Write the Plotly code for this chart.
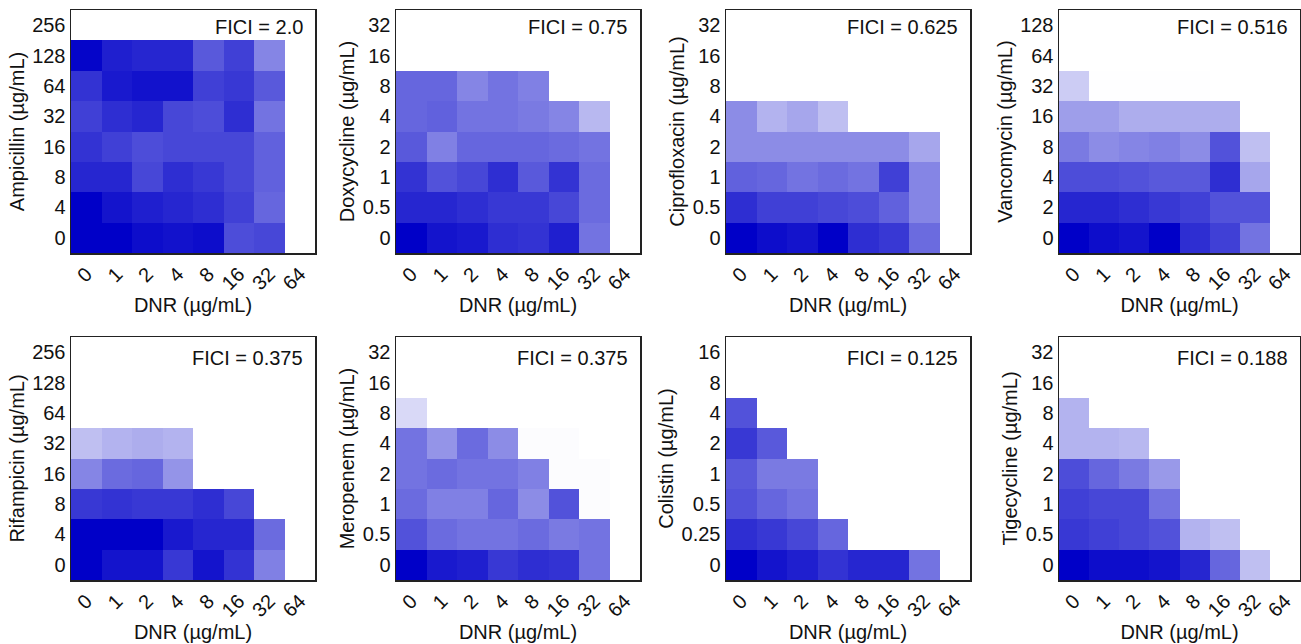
import plotly.graph_objects as go

dnr = ["0", "1", "2", "4", "8", "16", "32", "64"]

# --- panel labels ---
drugs = ["Ampicillin", "Doxycycline", "Ciprofloxacin", "Vancomycin",
         "Rifampicin", "Meropenem", "Colistin", "Tigecycline"]
fici = ["2.0", "0.75", "0.625", "0.516", "0.375", "0.375", "0.125", "0.188"]

# --- y tick labels (bottom -> top) ---
y_amp = ["0", "4", "8", "16", "32", "64", "128", "256"]
y_dox = ["0", "0.5", "1", "2", "4", "8", "16", "32"]
y_cip = ["0", "0.5", "1", "2", "4", "8", "16", "32"]
y_van = ["0", "2", "4", "8", "16", "32", "64", "128"]
y_rif = ["0", "4", "8", "16", "32", "64", "128", "256"]
y_mer = ["0", "0.5", "1", "2", "4", "8", "16", "32"]
y_col = ["0", "0.25", "0.5", "1", "2", "4", "8", "16"]
y_tig = ["0", "0.5", "1", "2", "4", "8", "16", "32"]

# --- relative growth values (rows bottom -> top, cols DNR 0..64) ---
z_amp = [
    [1.00, 1.00, 0.95, 0.93, 0.95, 0.70, 0.72, 0],
    [1.00, 0.92, 0.88, 0.85, 0.82, 0.75, 0.60, 0],
    [0.85, 0.85, 0.72, 0.82, 0.78, 0.72, 0.62, 0],
    [0.80, 0.75, 0.70, 0.72, 0.72, 0.72, 0.62, 0],
    [0.75, 0.82, 0.85, 0.72, 0.70, 0.82, 0.55, 0],
    [0.80, 0.90, 0.93, 0.93, 0.75, 0.78, 0.65, 0],
    [0.98, 0.88, 0.85, 0.85, 0.65, 0.75, 0.48, 0],
    [0, 0, 0, 0, 0, 0, 0, 0],
]
z_dox = [
    [1.00, 0.92, 0.90, 0.82, 0.80, 0.88, 0.55, 0],
    [0.85, 0.85, 0.82, 0.78, 0.78, 0.72, 0.58, 0],
    [0.80, 0.68, 0.72, 0.82, 0.65, 0.80, 0.58, 0],
    [0.65, 0.50, 0.60, 0.60, 0.60, 0.58, 0.55, 0],
    [0.60, 0.62, 0.55, 0.55, 0.52, 0.48, 0.28, 0],
    [0.60, 0.60, 0.48, 0.55, 0.50, 0, 0, 0],
    [0, 0, 0, 0, 0, 0, 0, 0],
    [0, 0, 0, 0, 0, 0, 0, 0],
]
z_cip = [
    [1.00, 0.95, 0.92, 1.00, 0.82, 0.78, 0.58, 0],
    [0.82, 0.75, 0.75, 0.72, 0.70, 0.62, 0.48, 0],
    [0.62, 0.60, 0.55, 0.58, 0.55, 0.75, 0.48, 0],
    [0.45, 0.45, 0.45, 0.45, 0.45, 0.45, 0.35, 0],
    [0.45, 0.30, 0.35, 0.25, 0, 0, 0, 0],
    [0, 0, 0, 0, 0, 0, 0, 0],
    [0, 0, 0, 0, 0, 0, 0, 0],
    [0, 0, 0, 0, 0, 0, 0, 0],
]
z_van = [
    [1.00, 0.95, 0.92, 1.00, 0.82, 0.75, 0.55, 0],
    [0.85, 0.85, 0.82, 0.78, 0.75, 0.68, 0.68, 0],
    [0.70, 0.70, 0.68, 0.65, 0.65, 0.82, 0.35, 0],
    [0.52, 0.45, 0.48, 0.50, 0.45, 0.68, 0.25, 0],
    [0.38, 0.38, 0.32, 0.32, 0.32, 0.32, 0, 0],
    [0.20, 0.005, 0.005, 0.005, 0.005, 0, 0, 0],
    [0, 0, 0, 0, 0, 0, 0, 0],
    [0, 0, 0, 0, 0, 0, 0, 0],
]
z_rif = [
    [1.00, 0.92, 0.92, 0.78, 0.92, 0.80, 0.50, 0],
    [1.00, 1.00, 1.00, 0.90, 0.85, 0.85, 0.58, 0],
    [0.78, 0.80, 0.78, 0.78, 0.82, 0.72, 0, 0],
    [0.48, 0.58, 0.60, 0.42, 0, 0, 0, 0],
    [0.25, 0.30, 0.32, 0.30, 0, 0, 0, 0],
    [0, 0, 0, 0, 0, 0, 0, 0],
    [0, 0, 0, 0, 0, 0, 0, 0],
    [0, 0, 0, 0, 0, 0, 0, 0],
]
z_mer = [
    [1.00, 0.90, 0.88, 0.78, 0.82, 0.80, 0.55, 0],
    [0.68, 0.58, 0.55, 0.55, 0.58, 0.52, 0.55, 0],
    [0.58, 0.50, 0.50, 0.60, 0.45, 0.68, 0.01, 0],
    [0.55, 0.58, 0.55, 0.55, 0.50, 0.01, 0.01, 0],
    [0.55, 0.42, 0.58, 0.45, 0.01, 0.01, 0, 0],
    [0.15, 0, 0, 0, 0, 0, 0, 0],
    [0, 0, 0, 0, 0, 0, 0, 0],
    [0, 0, 0, 0, 0, 0, 0, 0],
]
z_col = [
    [1.00, 0.92, 0.88, 0.80, 0.85, 0.85, 0.55, 0],
    [0.82, 0.78, 0.72, 0.60, 0, 0, 0, 0],
    [0.68, 0.60, 0.55, 0, 0, 0, 0, 0],
    [0.65, 0.52, 0.52, 0, 0, 0, 0, 0],
    [0.78, 0.65, 0, 0, 0, 0, 0, 0],
    [0.68, 0, 0, 0, 0, 0, 0, 0],
    [0, 0, 0, 0, 0, 0, 0, 0],
    [0, 0, 0, 0, 0, 0, 0, 0],
]
z_tig = [
    [1.00, 0.95, 0.95, 0.92, 0.85, 0.60, 0.25, 0],
    [0.78, 0.75, 0.72, 0.68, 0.30, 0.25, 0, 0],
    [0.75, 0.72, 0.72, 0.55, 0, 0, 0, 0],
    [0.70, 0.60, 0.52, 0.40, 0, 0, 0, 0],
    [0.30, 0.30, 0.28, 0, 0, 0, 0, 0],
    [0.30, 0, 0, 0, 0, 0, 0, 0],
    [0, 0, 0, 0, 0, 0, 0, 0],
    [0, 0, 0, 0, 0, 0, 0, 0],
]

ylabels = [y_amp, y_dox, y_cip, y_van, y_rif, y_mer, y_col, y_tig]
zs = [z_amp, z_dox, z_cip, z_van, z_rif, z_mer, z_col, z_tig]

W, H = 1301, 644
xpix = [(71, 315), (396, 640), (726, 970), (1059, 1300)]
ypix = [(10, 253), (337, 580)]
fici_dy = [0.93, 0.915]

FONT = "Arial, Liberation Sans, Helvetica, sans-serif"
FS = 20
fig = go.Figure()
layout = dict(width=W, height=H, margin=dict(l=0, r=0, t=0, b=0),
              paper_bgcolor="white", plot_bgcolor="white",
              font=dict(family=FONT, size=FS, color="#111"), showlegend=False)
annotations = []
for i in range(8):
    r, c = divmod(i, 4)
    n = i + 1
    xa = "x" if n == 1 else f"x{n}"
    ya = "y" if n == 1 else f"y{n}"
    fig.add_trace(go.Heatmap(
        z=zs[i], x=dnr, y=ylabels[i], xaxis=xa, yaxis=ya,
        colorscale=[[0, "rgb(255,255,255)"], [1, "rgb(0,0,200)"]],
        zmin=0, zmax=1, showscale=False, hoverinfo="skip"))
    x0, x1 = xpix[c]
    y0, y1 = ypix[r]
    axkey = "xaxis" if n == 1 else f"xaxis{n}"
    aykey = "yaxis" if n == 1 else f"yaxis{n}"
    layout[axkey] = dict(
        domain=[x0 / W, x1 / W], anchor=ya, type="category",
        tickangle=-45, showgrid=False, zeroline=False,
        showline=True, mirror=True, linecolor="#222", linewidth=1.5,
        ticks="", tickfont=dict(size=FS),
        title=dict(text="DNR (µg/mL)", font=dict(size=FS), standoff=4))
    layout[aykey] = dict(
        domain=[1 - y1 / H, 1 - y0 / H], anchor=xa, type="category",
        showgrid=False, zeroline=False,
        showline=True, mirror=True, linecolor="#222", linewidth=1.5,
        ticks="", tickfont=dict(size=FS),
        title=dict(text=f"{drugs[i]} (µg/mL)", font=dict(size=FS), standoff=2))
    annotations.append(dict(
        text=f"FICI = {fici[i]}", xref=f"{xa} domain", yref=f"{ya} domain",
        x=0.96, y=fici_dy[r], xanchor="right", yanchor="middle",
        showarrow=False, font=dict(size=FS, color="#111")))
layout["annotations"] = annotations
fig.update_layout(**layout)
fig.write_html("out.html",
               config={"displayModeBar": False, "staticPlot": True},
               post_script="document.body.style.margin='0px';"
                           "document.body.style.overflow='hidden';")
